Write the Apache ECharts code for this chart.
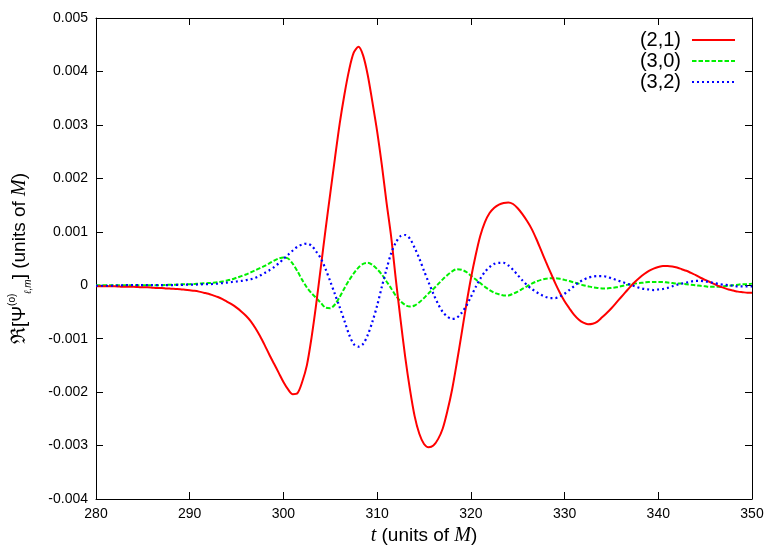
<!DOCTYPE html>
<html>
<head>
<meta charset="utf-8">
<script src="https://cdn.jsdelivr.net/npm/echarts@6/dist/echarts.min.js"></script>
<style>
  html, body { margin: 0; padding: 0; background: #fff; }
  #chart { width: 778px; height: 545px; }
</style>
</head>
<body>
<div id="chart"></div>
<script>
// sample times t = 280, 280.5, ..., 350 (units of M)
const times = Array.from({ length: 141 }, (_, i) => 280 + i * 0.5);

// values, in units of 1e-3 (labels divide by 1000)
const red21 = [
  -0.02, -0.02, -0.02, -0.02, -0.02, -0.025, -0.03, -0.03, -0.03, -0.035,
  -0.04, -0.04, -0.045, -0.05, -0.05, -0.06, -0.065, -0.07, -0.075, -0.085,
  -0.095, -0.105, -0.12, -0.14, -0.16, -0.19, -0.22, -0.26, -0.31, -0.36,
  -0.42, -0.49, -0.57, -0.67, -0.8, -0.95, -1.12, -1.3, -1.47, -1.64,
  -1.81, -1.95, -2.04, -2.02, -1.81, -1.5, -0.98, -0.35, 0.35, 1.05,
  1.72, 2.38, 3.02, 3.56, 4.02, 4.35, 4.46, 4.3, 3.93, 3.42,
  2.88, 2.25, 1.55, 0.9, 0.1, -0.65, -1.35, -1.95, -2.45, -2.78,
  -2.97, -3.03, -3.0, -2.88, -2.68, -2.35, -1.95, -1.45, -0.92, -0.38,
  0.12, 0.55, 0.92, 1.18, 1.35, 1.45, 1.51, 1.54, 1.55, 1.52,
  1.44, 1.33, 1.2, 1.05, 0.86, 0.65, 0.44, 0.24, 0.04, -0.14,
  -0.3, -0.43, -0.55, -0.64, -0.7, -0.73, -0.72, -0.68, -0.6, -0.52,
  -0.43, -0.33, -0.23, -0.13, -0.03, 0.06, 0.14, 0.21, 0.27, 0.31,
  0.34, 0.36, 0.36, 0.35, 0.33, 0.3, 0.27, 0.23, 0.19, 0.14,
  0.1, 0.06, 0.02, -0.02, -0.05, -0.08, -0.1, -0.12, -0.13, -0.14,
  -0.14
];
const green30 = [
  0.0, 0.0, 0.0, 0.0, 0.0, 0.0, 0.0, 0.0, 0.0, 0.0,
  0.0, 0.0, 0.0, 0.0, 0.0, 0.005, 0.01, 0.01, 0.015, 0.02,
  0.02, 0.025, 0.03, 0.035, 0.04, 0.045, 0.055, 0.07, 0.09, 0.11,
  0.14, 0.17, 0.2, 0.24, 0.28, 0.32, 0.36, 0.41, 0.46, 0.5,
  0.52, 0.5, 0.4, 0.26, 0.1, -0.04, -0.15, -0.24, -0.33, -0.42,
  -0.43, -0.36, -0.22, -0.06, 0.09, 0.22, 0.33, 0.4, 0.42, 0.38,
  0.3, 0.2, 0.07, -0.06, -0.2, -0.3, -0.37, -0.4, -0.38, -0.32,
  -0.24, -0.15, -0.07, 0.02, 0.11, 0.19, 0.26, 0.3, 0.29, 0.25,
  0.18, 0.11, 0.04, -0.03, -0.09, -0.14, -0.17, -0.19, -0.19, -0.16,
  -0.12, -0.07, -0.02, 0.03, 0.07, 0.1, 0.12, 0.13, 0.13, 0.12,
  0.1, 0.08, 0.05, 0.03, 0.0, -0.02, -0.04, -0.05, -0.06, -0.06,
  -0.05, -0.04, -0.02, 0.0, 0.02, 0.03, 0.04, 0.05, 0.06, 0.06,
  0.06, 0.06, 0.05, 0.04, 0.03, 0.03, 0.02, 0.01, 0.0, -0.01,
  -0.02, -0.03, -0.03, -0.03, -0.02, -0.01, 0.0, 0.01, 0.02, 0.02,
  0.03
];
const blue32 = [
  -0.01, -0.01, -0.01, -0.01, -0.005, -0.005, 0.0, 0.0, 0.0, 0.0,
  0.0, 0.0, 0.0, 0.0, 0.0, 0.0, 0.0, 0.005, 0.005, 0.01,
  0.01, 0.01, 0.015, 0.02, 0.02, 0.025, 0.03, 0.04, 0.05, 0.06,
  0.07, 0.08, 0.095, 0.11, 0.14, 0.18, 0.23, 0.28, 0.34, 0.41,
  0.49, 0.57, 0.65, 0.72, 0.76, 0.78, 0.74, 0.63, 0.5, 0.3,
  0.07, -0.17, -0.41, -0.66, -0.92, -1.1, -1.15, -1.1, -0.93, -0.68,
  -0.38, -0.03, 0.3, 0.6, 0.8, 0.92, 0.94, 0.87, 0.7, 0.5,
  0.27, 0.05, -0.16, -0.35, -0.5, -0.59, -0.63, -0.61, -0.52, -0.39,
  -0.22, -0.04, 0.12, 0.25, 0.34, 0.4, 0.42, 0.42, 0.37, 0.29,
  0.19, 0.09, 0.0, -0.07, -0.13, -0.18, -0.22, -0.24, -0.24, -0.21,
  -0.16, -0.09, -0.02, 0.05, 0.1, 0.14, 0.16, 0.17, 0.17, 0.16,
  0.13, 0.1, 0.07, 0.04, 0.01, -0.02, -0.05, -0.07, -0.08, -0.09,
  -0.08, -0.07, -0.05, -0.02, 0.01, 0.03, 0.05, 0.07, 0.08, 0.08,
  0.07, 0.06, 0.04, 0.02, 0.01, 0.0, -0.01, -0.02, -0.02, -0.02,
  -0.02
];

const seriesNames = ['(2,1)', '(3,0)', '(3,2)'];

const pairs = vs => times.map((t, i) => [t, vs[i]]);
const font = 'Liberation Sans';

const chart = echarts.init(document.getElementById('chart'));

const frameAxis = {
  axisLine: { show: true, onZero: false, lineStyle: { color: '#000', width: 1 } },
  axisTick: { show: true, inside: true, length: 7, lineStyle: { color: '#000' } },
  splitLine: { show: false }
};

chart.setOption({
  animation: false,
  backgroundColor: '#fff',
  grid: { left: 96, right: 26, top: 18, bottom: 46, outerBoundsMode: 'none' },
  legend: {
    orient: 'vertical',
    right: 37,
    top: 25,
    align: 'right',
    itemWidth: 43,
    itemHeight: 20,
    itemGap: 1,
    itemStyle: { opacity: 0 },
    textStyle: { fontFamily: font, fontSize: 20, color: '#000', padding: [0, 6, 0, 0] },
    data: seriesNames
  },
  xAxis: [
    Object.assign({}, frameAxis, {
      type: 'value', min: 280, max: 350, interval: 10,
      axisLabel: { color: '#000', fontFamily: font, fontSize: 14, margin: 8 },
      name: '{it|t} (units of {it|M})',
      nameLocation: 'middle',
      nameGap: 26,
      nameTextStyle: {
        fontFamily: font, fontSize: 19, color: '#000',
        rich: { it: { fontFamily: 'Liberation Serif', fontStyle: 'italic', fontSize: 20, color: '#000' } }
      }
    }),
    Object.assign({}, frameAxis, {
      type: 'value', min: 280, max: 350, interval: 10, position: 'top',
      axisLabel: { show: false }
    })
  ],
  yAxis: [
    Object.assign({}, frameAxis, {
      type: 'value', min: -4, max: 5, interval: 1,
      axisLabel: {
        color: '#000', fontFamily: font, fontSize: 14, margin: 8,
        formatter: v => v === 0 ? '0' : (v / 1000).toFixed(3)
      },
      name: '{r|ℜ}[Ψ{sup|(o)}{sub|ℓ,m}] (units of {it|M})',
      nameLocation: 'middle',
      nameRotate: 90,
      nameGap: 63,
      nameTextStyle: {
        fontFamily: font, fontSize: 19, color: '#000', lineHeight: 26,
        rich: {
          r: { fontFamily: 'DejaVu Serif', fontSize: 20, color: '#000' },
          sup: { fontFamily: font, fontSize: 10, color: '#000', verticalAlign: 'top', lineHeight: 26 },
          sub: { fontFamily: font, fontSize: 10, fontStyle: 'italic', color: '#000', verticalAlign: 'bottom', lineHeight: 26 },
          it: { fontFamily: 'Liberation Serif', fontStyle: 'italic', fontSize: 20, color: '#000' }
        }
      }
    }),
    Object.assign({}, frameAxis, {
      type: 'value', min: -4, max: 5, interval: 1, position: 'right',
      axisLabel: { show: false }
    })
  ],
  series: [
    {
      name: seriesNames[0], type: 'line', data: pairs(red21),
      smooth: 0.3, symbol: 'none', color: '#ff0000',
      lineStyle: { color: '#ff0000', width: 2 }, z: 3
    },
    {
      name: seriesNames[1], type: 'line', data: pairs(green30),
      smooth: 0.3, symbol: 'none', color: '#00f000',
      lineStyle: { color: '#00f000', width: 2, type: [4.5, 2] }, z: 2
    },
    {
      name: seriesNames[2], type: 'line', data: pairs(blue32),
      smooth: 0.3, symbol: 'none', color: '#0000ff',
      lineStyle: { color: '#0000ff', width: 2.2, type: [2, 3] }, z: 4
    }
  ]
});
</script>
</body>
</html>
